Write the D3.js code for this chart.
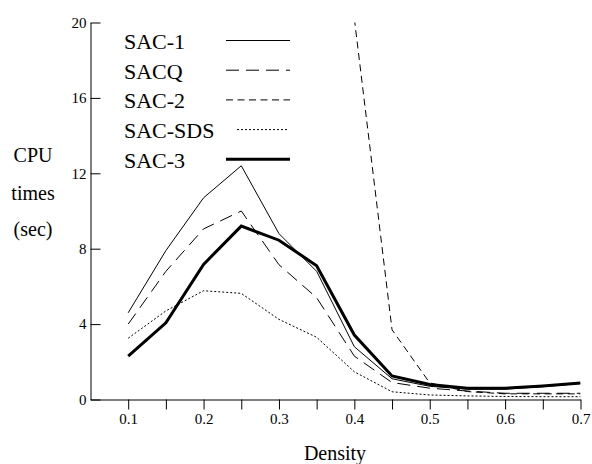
<!DOCTYPE html>
<html>
<head>
<meta charset="utf-8">
<script src="https://cdn.jsdelivr.net/npm/d3@7"></script>
<style>
  body { margin: 0; background: #fff; }
</style>
</head>
<body>
<div class="chart"></div>
<script>
// values
var densities = [0.1, 0.15, 0.2, 0.25, 0.3, 0.35, 0.4, 0.45, 0.5, 0.55, 0.6, 0.65, 0.7];
var sac1   = [4.6, 7.9, 10.7, 12.4, 8.8, 6.8, 2.8, 1.1, 0.7, 0.55, 0.55, 0.68, 0.85];
var sacq   = [4.0, 6.8, 9.05, 10.0, 7.15, 5.4, 2.3, 0.9, 0.6, 0.45, 0.33, 0.33, 0.33];
var sac2   = [null, null, null, null, null, null, 20.2, 3.7, 0.88, 0.42, 0.3, 0.3, 0.3];
var sacsds = [3.25, 4.7, 5.77, 5.63, 4.25, 3.3, 1.47, 0.41, 0.24, 0.19, 0.16, 0.15, 0.15];
var sac3   = [2.3, 4.07, 7.17, 9.2, 8.45, 7.1, 3.42, 1.25, 0.8, 0.6, 0.6, 0.72, 0.87];

var seriesNames = ["SAC-1", "SACQ", "SAC-2", "SAC-SDS", "SAC-3"];
var xTicks = [0.1, 0.15, 0.2, 0.25, 0.3, 0.35, 0.4, 0.45, 0.5, 0.55, 0.6, 0.65, 0.7];
var xTickLabels = ["0.1", "", "0.2", "", "0.3", "", "0.4", "", "0.5", "", "0.6", "", "0.7"];
var yTicks = [0, 4, 8, 12, 16, 20];

var width = 592;
var height = 464;
var serif = "'Liberation Serif', 'Times New Roman', Times, 'DejaVu Serif', serif";

var svg = d3.select(".chart")
  .append("svg")
  .attr("width", width)
  .attr("height", height)
  .style("font-family", serif);

var x = d3.scaleLinear().domain([0.05, 0.7]).range([90.5, 580.5]);
var y = d3.scaleLinear().domain([0, 20]).range([399.5, 22.5]);

// line styles, same order as seriesNames
var styles = [
  {w: 1, dash: null},
  {w: 1, dash: "13,7"},
  {w: 1, dash: "7,4.5"},
  {w: 1, dash: "2,2"},
  {w: 3, dash: null}
];
var allSeries = [sac1, sacq, sac2, sacsds, sac3];

svg.append("clipPath")
  .attr("id", "plot")
  .append("rect")
  .attr("x", x.range()[0])
  .attr("y", y(20))
  .attr("width", x.range()[1] - x.range()[0])
  .attr("height", y(0) - y(20));

// X axis
var xAxis = d3.axisBottom(x)
  .tickValues(xTicks)
  .tickFormat((d, i) => xTickLabels[i])
  .tickSizeInner(10)
  .tickSizeOuter(0)
  .tickPadding(3.5);

svg.append("g")
  .attr("class", "x axis")
  .attr("transform", `translate(0,${y(0)})`)
  .call(xAxis)
  .attr("font-family", null)
  .attr("font-size", null)
  .call(g => g.selectAll("text").style("font-size", "15px").style("font-family", serif))
  .call(g => g.selectAll("line, path").attr("stroke", "#000"));

// Y axis, ticks point inwards
var yAxis = d3.axisLeft(y)
  .tickValues(yTicks)
  .tickSizeInner(-10)
  .tickSizeOuter(0)
  .tickPadding(4);

svg.append("g")
  .attr("class", "y axis")
  .attr("transform", `translate(${x.range()[0]},0)`)
  .call(yAxis)
  .attr("font-family", null)
  .attr("font-size", null)
  .call(g => g.selectAll("text").style("font-size", "15px").style("font-family", serif))
  .call(g => g.selectAll("line, path").attr("stroke", "#000"));

// the curves
var line = d3.line()
  .defined(d => d.v != null)
  .x(d => x(d.x))
  .y(d => y(d.v));

allSeries.forEach(function(vals, i) {
  var pts = vals.map((v, j) => ({x: densities[j], v: v}));
  svg.append("path")
    .datum(pts)
    .attr("clip-path", "url(#plot)")
    .attr("fill", "none")
    .attr("stroke", "#000")
    .attr("stroke-width", styles[i].w)
    .attr("stroke-dasharray", styles[i].dash)
    .attr("stroke-linejoin", "miter")
    .attr("d", line);
});

// legend
var legendTop = 49;
var legendStep = 29.7;
seriesNames.forEach(function(name, i) {
  var yy = legendTop + i * legendStep;
  svg.append("text")
    .attr("x", 124)
    .attr("y", yy)
    .style("font-size", "22px")
    .style("font-family", serif)
    .text(name);
  svg.append("line")
    .attr("x1", name == "SAC-SDS" ? 237 : 226)
    .attr("x2", name == "SAC-SDS" ? 288 : 290)
    .attr("y1", yy - 8.5)
    .attr("y2", yy - 8.5)
    .attr("stroke", "#000")
    .attr("stroke-width", styles[i].w)
    .attr("stroke-dasharray", styles[i].dash);
});

// axis titles
svg.append("text")
  .attr("x", 335)
  .attr("y", 460)
  .attr("text-anchor", "middle")
  .style("font-size", "20px")
  .style("font-family", serif)
  .text("Density");

["CPU", "times", "(sec)"].forEach(function(t, i) {
  svg.append("text")
    .attr("x", 33)
    .attr("y", [162, 200, 236][i])
    .attr("text-anchor", "middle")
    .style("font-size", "20px")
    .style("font-family", serif)
    .text(t);
});
</script>
</body>
</html>
